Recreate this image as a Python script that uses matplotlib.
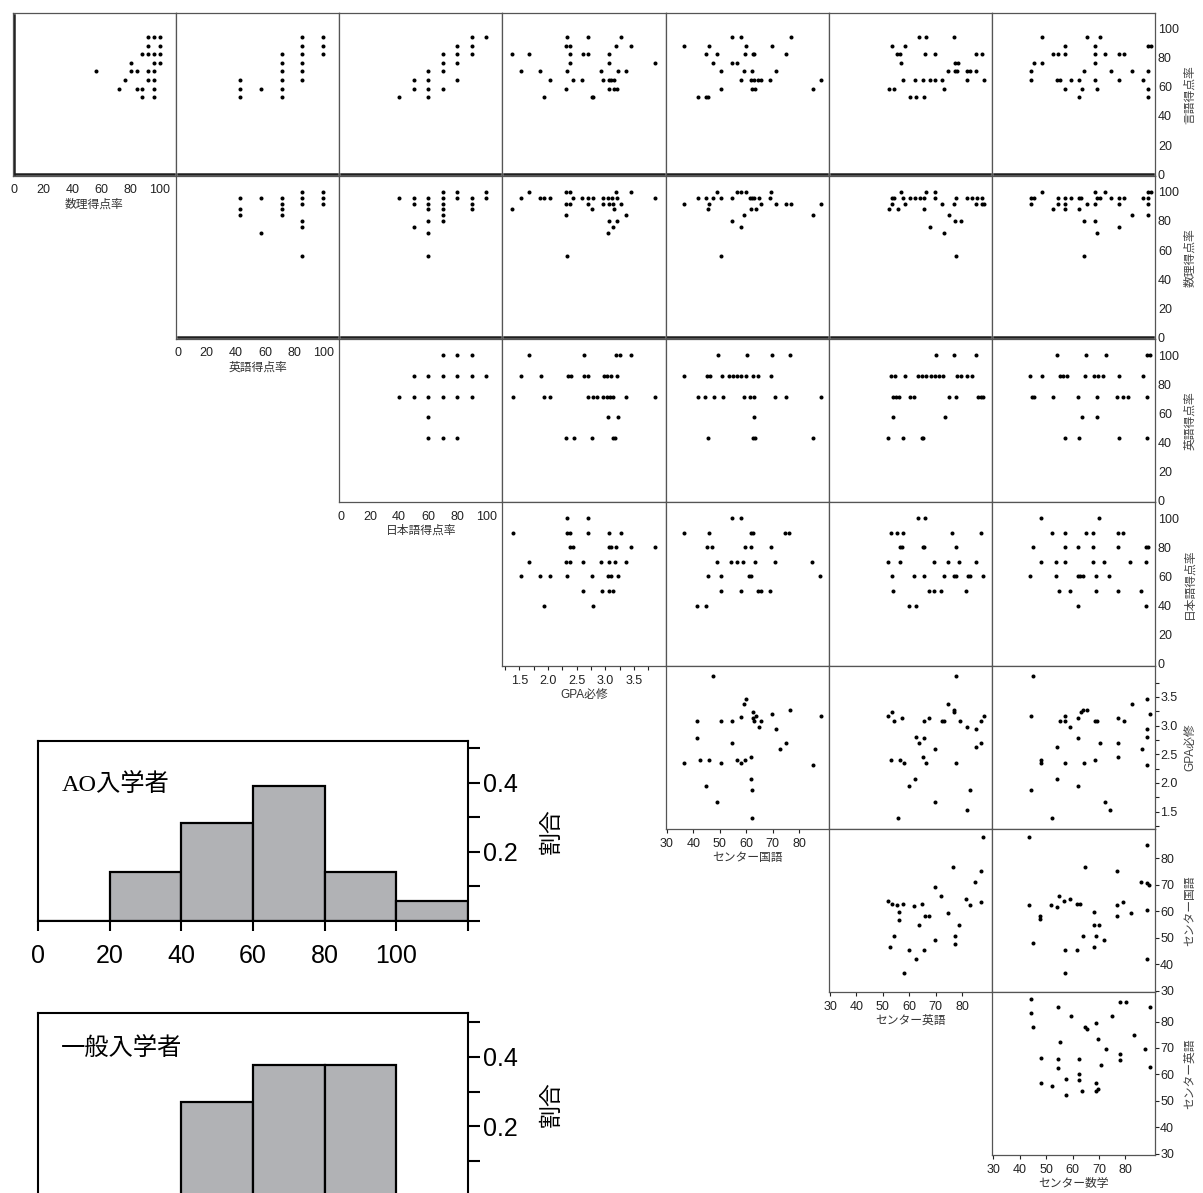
import matplotlib
matplotlib.use("Agg")
import matplotlib.pyplot as plt

plt.rcParams['font.family'] = ['Liberation Sans', 'Noto Sans CJK JP', 'DejaVu Sans']

# ---------------- variables ----------------
var_names = ['言語得点率', '数理得点率', '英語得点率', '日本語得点率',
             'GPA必修', 'センター国語', 'センター英語', 'センター数学']
var_kind = ['pct', 'pct', 'pct', 'pct', 'gpa', 'center', 'center', 'center']

# ---------------- scatter data: (x, y) per panel ----------------
# row 0 : y = 言語得点率
gengo_suri = [(92,94.1),(96,94.1),(100,94.1),(92,88.2),(100,88.2),(88,82.4),(92,82.4),(96,82.4),(100,82.4),
              (80,76.5),(96,76.5),(100,76.5),(56,70.6),(80,70.6),(84,70.6),(92,70.6),(96,70.6),(76,64.7),
              (92,64.7),(96,64.7),(72,58.8),(84,58.8),(88,58.8),(96,58.8),(88,52.9),(96,52.9)]
gengo_eigo = [(42.9,64.7),(42.9,58.8),(42.9,52.9),(57.1,58.8),(71.4,82.4),(71.4,76.5),(71.4,70.6),(71.4,64.7),
              (71.4,58.8),(71.4,52.9),(85.7,94.1),(85.7,88.2),(85.7,82.4),(85.7,76.5),(85.7,70.6),(85.7,64.7),
              (100,94.1),(100,88.2),(100,82.4)]
gengo_nihongo = [(40,52.9),(50,64.7),(50,58.8),(60,70.6),(60,64.7),(60,58.8),(60,52.9),(70,82.4),(70,76.5),
                 (70,70.6),(70,58.8),(80,88.2),(80,82.4),(80,76.5),(80,64.7),(90,94.1),(90,88.2),(90,82.4),(100,94.1)]
gengo_gpa = [(1.37,82.4),(1.66,82.4),(1.52,70.6),(1.86,70.6),(2.04,64.7),(1.93,52.9),(2.31,58.8),(2.33,94.1),
             (2.32,88.2),(2.39,88.2),(2.39,82.4),(2.39,76.5),(2.33,70.6),(2.44,64.7),(2.60,64.7),(2.61,82.4),
             (2.69,82.4),(2.69,94.1),(2.77,52.9),(2.79,52.9),(2.93,70.6),(2.96,64.7),(3.06,82.4),(3.07,76.5),
             (3.06,64.7),(3.10,64.7),(3.15,64.7),(3.06,58.8),(3.15,58.8),(3.21,58.8),(3.19,88.2),(3.28,94.1),
             (3.22,70.6),(3.36,70.6),(3.45,88.2),(3.86,76.5)]
gengo_ckokugo = [(36.5,88.2),(41.6,52.9),(45.0,52.9),(45.4,52.9),(45.0,82.4),(46.0,88.2),(47.5,76.5),(48.9,82.4),
                 (50.5,70.6),(50.5,58.8),(54.6,94.1),(54.6,76.5),(56.4,76.5),(58.1,94.1),(58.1,64.7),(59.0,70.6),
                 (59.9,88.2),(59.7,82.4),(61.9,64.7),(62.1,70.6),(62.6,82.4),(62.8,64.7),(62.3,58.8),(63.2,58.8),
                 (63.0,82.4),(64.3,64.7),(65.6,64.7),(69.1,64.7),(69.7,88.2),(71.1,70.6),(75.2,82.4),(76.8,94.1),
                 (85.3,58.8),(88.3,64.7)]
gengo_ceigo = [(53.3,88.2),(55.5,82.4),(56.3,82.4),(56.8,76.5),(58.2,88.2),(57.7,64.7),(52.2,58.8),(54.0,58.8),
               (60.2,52.9),(62.6,52.9),(65.7,52.9),(62.2,64.7),(63.6,94.1),(66.3,94.1),(65.9,82.4),(69.7,82.4),
               (65.2,64.7),(67.7,64.7),(69.8,64.7),(72.2,64.7),(73.2,58.8),(74.7,70.6),(76.8,94.1),(77.2,76.5),
               (78.2,76.5),(77.2,70.6),(77.9,70.6),(81.6,70.6),(83.1,70.6),(85.3,70.6),(81.7,64.7),(85.3,82.4),
               (87.3,82.4),(88.2,64.7)]
gengo_csugaku = [(44.3,64.7),(44.3,70.6),(45.3,76.5),(48.3,94.1),(48.3,76.5),(52.5,82.4),(54.4,82.4),(57.3,88.2),
                 (57.3,82.4),(54.2,64.7),(55.1,64.7),(57.3,58.8),(59.4,64.7),(62.3,64.7),(62.4,52.9),(63.4,58.8),
                 (64.4,70.6),(65.5,94.1),(68.4,88.2),(68.4,82.4),(68.4,76.5),(68.4,64.7),(69.4,58.8),(70.5,94.1),
                 (72.4,82.4),(74.4,70.6),(77.4,82.4),(79.4,82.4),(77.4,64.7),(82.4,70.6),(86.5,64.7),(88.6,88.2),
                 (89.5,88.2),(88.6,70.6),(88.6,58.8),(88.6,52.9)]

# row 1 : y = 数理得点率
suri_eigo = [(42.9,96),(42.9,88),(42.9,84),(57.1,96),(57.1,72),(71.4,96),(71.4,92),(71.4,88),(71.4,84),
             (85.7,100),(85.7,96),(85.7,92),(85.7,80),(85.7,76),(85.7,56),(100,100),(100,96),(100,92)]
suri_nihongo = [(40,96),(50,96),(50,92),(50,76),(60,96),(60,92),(60,88),(60,80),(60,72),(60,56),(70,100),(70,96),
                (70,92),(70,88),(70,84),(70,80),(80,100),(80,96),(90,96),(90,92),(90,88),(100,100),(100,96)]
suri_gpa = [(1.37,88),(1.52,96),(1.66,100),(1.85,96),(1.92,96),(2.04,96),(2.32,100),(2.38,100),(2.31,92),(2.39,92),
            (2.44,96),(2.31,84),(2.33,56),(2.60,96),(2.70,96),(2.79,96),(2.69,92),(2.77,88),(2.95,96),(2.95,92),
            (3.04,96),(3.06,92),(3.11,96),(3.14,92),(3.19,100),(3.21,96),(3.15,88),(3.28,92),(3.36,84),(3.06,80),
            (3.21,80),(3.13,76),(3.05,72),(3.45,100),(3.86,96)]
suri_ckokugo = [(48.9,100),(56.4,100),(58.1,100),(60.0,100),(69.5,100),(41.6,96),(45.0,96),(47.5,96),(50.5,96),
                (54.6,96),(61.4,96),(62.3,96),(63.0,96),(64.7,96),(69.1,96),(36.5,92),(45.9,92),(65.6,92),(71.1,92),
                (75.2,92),(76.8,92),(88.3,92),(45.4,88),(61.9,88),(63.8,88),(59.0,84),(85.3,84),(54.6,80),(58.1,76),
                (50.5,56)]
suri_ceigo = [(56.7,100),(66.3,100),(69.8,100),(53.3,96),(54.0,96),(57.7,96),(60.1,96),(62.3,96),(64.0,96),
              (65.6,96),(69.8,96),(77.8,96),(81.7,96),(83.6,96),(85.5,96),(87.3,96),(53.3,92),(58.2,92),(72.3,92),
              (76.8,92),(85.3,92),(87.3,92),(88.3,92),(52.2,88),(55.6,88),(65.6,88),(74.8,84),(77.2,80),(79.4,80),
              (67.7,76),(73.2,72),(77.7,56)]
suri_csugaku = [(48.3,100),(68.4,100),(72.4,100),(88.6,100),(89.5,100),(44.3,96),(45.3,96),(54.4,96),(57.3,96),
                (59.4,96),(62.3,96),(63.0,96),(69.4,96),(70.5,96),(74.4,96),(77.4,96),(79.4,96),(86.5,96),(88.6,96),
                (44.3,92),(54.4,92),(57.3,92),(65.5,92),(68.4,92),(77.4,92),(88.6,92),(52.5,88),(57.3,88),(62.4,88),
                (82.4,84),(88.6,84),(64.4,80),(68.4,80),(77.4,76),(69.4,72),(64.4,56)]

# row 2 : y = 英語得点率
eigo_nihongo = [(70,100),(80,100),(90,100),(50,85.7),(60,85.7),(70,85.7),(80,85.7),(90,85.7),(100,85.7),
                (40,71.4),(50,71.4),(60,71.4),(70,71.4),(80,71.4),(90,71.4),(60,57.1),(60,42.9),(70,42.9),(80,42.9)]
eigo_gpa = [(1.66,100),(2.63,100),(3.19,100),(3.26,100),(3.45,100),(1.53,85.7),(1.87,85.7),(2.34,85.7),(2.40,85.7),
            (2.63,85.7),(2.70,85.7),(2.97,85.7),(3.03,85.7),(3.09,85.7),(3.20,85.7),(1.39,71.4),(1.93,71.4),
            (2.04,71.4),(2.70,71.4),(2.78,71.4),(2.86,71.4),(2.96,71.4),(3.03,71.4),(3.08,71.4),(3.13,71.4),
            (3.36,71.4),(3.87,71.4),(3.04,57.1),(3.22,57.1),(2.32,42.9),(2.45,42.9),(2.77,42.9),(3.13,42.9),(3.17,42.9)]
eigo_ckokugo = [(49.2,100),(60.4,100),(69.8,100),(76.7,100),(36.6,85.7),(45.2,85.7),(46.3,85.7),(50.9,85.7),
                (53.6,85.7),(55.1,85.7),(56.6,85.7),(58.2,85.7),(59.9,85.7),(62.4,85.7),(64.5,85.7),(69.4,85.7),
                (41.7,71.4),(44.6,71.4),(47.8,71.4),(51.1,71.4),(59.3,71.4),(61.4,71.4),(62.9,71.4),(70.8,71.4),
                (75.1,71.4),(88.3,71.4),(62.9,57.1),(45.7,42.9),(62.4,42.9),(63.3,42.9),(85.3,42.9)]
eigo_ceigo = [(70.1,100),(76.8,100),(85.2,100),(52.9,85.7),(54.4,85.7),(58.2,85.7),(63.4,85.7),(64.9,85.7),
              (66.4,85.7),(68.0,85.7),(69.5,85.7),(71.2,85.7),(72.6,85.7),(78.1,85.7),(79.6,85.7),(81.7,85.7),
              (83.8,85.7),(53.8,71.4),(54.8,71.4),(56.1,71.4),(60.1,71.4),(61.7,71.4),(74.8,71.4),(77.5,71.4),
              (85.9,71.4),(86.9,71.4),(88.0,71.4),(53.8,57.1),(73.3,57.1),(51.9,42.9),(57.5,42.9),(64.9,42.9),
              (65.1,42.9)]
eigo_csugaku = [(54.3,100),(65.2,100),(72.6,100),(88.3,100),(89.3,100),(43.8,85.7),(48.4,85.7),(55.1,85.7),
                (56.4,85.7),(57.9,85.7),(64.6,85.7),(68.0,85.7),(69.8,85.7),(71.5,85.7),(77.4,85.7),(86.6,85.7),
                (44.6,71.4),(45.3,71.4),(52.6,71.4),(62.1,71.4),(69.4,71.4),(76.8,71.4),(78.9,71.4),(81.0,71.4),
                (88.3,71.4),(63.5,57.1),(69.4,57.1),(57.2,42.9),(62.5,42.9),(77.4,42.9),(88.3,42.9)]

# row 3 : y = 日本語得点率
nihongo_gpa = [(2.33,100),(2.69,100),(1.38,90),(2.33,90),(2.39,90),(2.69,90),(3.06,90),(3.28,90),(2.39,80),
               (2.43,80),(3.06,80),(3.10,80),(3.19,80),(3.44,80),(3.87,80),(1.66,70),(2.31,70),(2.39,70),(2.61,70),
               (2.93,70),(3.06,70),(3.16,70),(3.36,70),(1.52,60),(1.86,60),(2.04,60),(2.33,60),(2.76,60),(3.04,60),
               (3.10,60),(3.22,60),(2.61,50),(2.94,50),(3.06,50),(3.14,50),(1.93,40),(2.79,40)]
nihongo_ckokugo = [(54.5,100),(57.9,100),(36.6,90),(46.0,90),(62.0,90),(62.5,90),(74.8,90),(76.2,90),(45.1,80),
                   (47.1,80),(59.6,80),(62.0,80),(69.4,80),(48.8,70),(54.3,70),(56.5,70),(58.8,70),(63.4,70),
                   (70.8,70),(84.8,70),(45.4,60),(50.6,60),(61.2,60),(62.0,60),(87.8,60),(50.6,50),(57.9,50),
                   (64.6,50),(65.6,50),(68.9,50),(41.5,40),(44.9,40)]
nihongo_ceigo = [(63.3,100),(65.9,100),(53.1,90),(55.3,90),(57.7,90),(76.2,90),(86.9,90),(56.5,80),(57.4,80),
                 (65.1,80),(65.6,80),(77.6,80),(51.9,70),(56.5,70),(69.3,70),(74.5,70),(78.7,70),(85.1,70),
                 (53.4,60),(61.6,60),(65.6,60),(73.1,60),(77.0,60),(77.6,60),(82.2,60),(83.0,60),(87.8,60),
                 (53.9,50),(67.3,50),(69.3,50),(71.9,50),(81.3,50),(59.9,40),(62.5,40)]
nihongo_csugaku = [(47.9,100),(70.1,100),(52.2,90),(57.0,90),(65.0,90),(67.9,90),(77.0,90),(79.0,90),(45.0,80),
                   (57.0,80),(62.1,80),(67.9,80),(77.0,80),(87.8,80),(88.6,80),(47.9,70),(53.9,70),(57.0,70),
                   (67.9,70),(71.9,70),(81.8,70),(87.8,70),(44.0,60),(53.9,60),(62.0,60),(62.8,60),(63.8,60),
                   (68.9,60),(73.9,60),(54.9,50),(59.0,50),(68.9,50),(77.0,50),(85.9,50),(62.0,40),(87.8,40)]

# row 4 : y = GPA必修
gpa_ckokugo = [(47.4,3.87),(60.0,3.46),(59.0,3.38),(76.6,3.28),(62.5,3.23),(58.0,3.15),(62.5,3.13),(63.6,3.16),
               (88.1,3.16),(69.7,3.21),(41.3,3.08),(50.6,3.08),(54.5,3.08),(63.1,3.08),(65.7,3.08),(64.7,2.97),
               (71.2,2.94),(41.4,2.78),(54.6,2.70),(75.1,2.70),(72.8,2.60),(62.0,2.45),(42.4,2.40),(46.1,2.40),
               (56.6,2.40),(59.6,2.40),(36.4,2.34),(50.5,2.34),(58.0,2.34),(85.1,2.32),(62.0,2.06),(45.0,1.94),
               (62.1,1.88),(49.0,1.67),(62.1,1.39)]
gpa_ceigo = [(77.6,3.87),(74.6,3.38),(76.7,3.28),(76.9,3.23),(52.0,3.17),(53.5,3.23),(54.0,3.08),(57.4,3.13),
             (67.6,3.14),(65.7,3.08),(72.3,3.08),(73.1,3.08),(79.2,3.08),(81.6,2.97),(85.3,2.94),(87.1,3.08),
             (88.2,3.16),(62.6,2.80),(63.7,2.70),(65.4,2.78),(69.6,2.60),(87.1,2.70),(85.3,2.62),(53.1,2.40),
             (56.6,2.40),(58.1,2.34),(65.0,2.45),(66.2,2.34),(77.6,2.34),(62.1,2.06),(59.9,1.94),(83.1,1.88),
             (69.6,1.67),(81.6,1.53),(55.7,1.39)]
gpa_csugaku = [(45.2,3.87),(44.1,3.16),(88.2,3.46),(82.3,3.38),(89.3,3.21),(88.2,2.94),(88.2,2.80),(64.0,3.28),
               (65.3,3.28),(63.0,3.23),(62.1,3.13),(57.3,3.17),(55.1,3.08),(57.1,3.08),(59.1,2.97),(68.4,3.08),
               (69.3,3.08),(77.3,3.14),(79.4,3.08),(62.1,2.78),(54.2,2.62),(70.3,2.70),(77.3,2.70),(86.2,2.60),
               (48.2,2.40),(48.2,2.34),(57.3,2.34),(64.4,2.34),(68.4,2.40),(77.3,2.45),(88.2,2.32),(54.2,2.06),
               (44.1,1.88),(62.1,1.94),(72.3,1.67),(74.3,1.53),(52.2,1.39)]

# row 5 : y = センター国語
ckokugo_ceigo = [(87.9,88.1),(76.4,76.6),(87.0,75.1),(84.9,71.1),(69.5,69.1),(52.1,63.8),(53.3,62.6),(55.5,62.3),
                 (57.5,62.6),(71.9,65.8),(56.2,59.8),(56.2,56.8),(61.8,61.8),(64.8,62.6),(65.8,58.3),(67.6,58.3),
                 (74.5,59.3),(81.5,64.8),(83.0,62.3),(87.0,63.3),(54.0,50.6),(69.5,49.3),(77.3,50.8),(78.9,54.8),
                 (63.5,54.8),(52.8,46.3),(60.0,45.3),(65.6,45.5),(77.3,47.6),(62.5,41.8),(58.0,36.8)]
ckokugo_csugaku = [(43.7,88.1),(88.0,85.1),(76.9,75.1),(64.8,76.6),(85.9,71.1),(88.1,70.6),(89.0,69.8),(43.7,62.3),
                   (47.5,58.3),(47.5,57.0),(51.9,62.3),(54.0,61.6),(55.0,65.8),(56.9,63.8),(58.9,64.8),(61.7,62.6),
                   (62.8,62.6),(76.9,62.3),(78.9,63.3),(76.9,58.3),(82.0,59.3),(88.0,60.3),(44.9,47.8),(57.0,45.4),
                   (61.7,45.5),(63.9,50.8),(68.0,59.8),(68.0,54.8),(68.0,46.3),(69.0,50.8),(70.0,54.8),(72.0,49.3),
                   (57.0,36.8),(88.0,41.8)]

# row 6 : y = センター英語
ceigo_csugaku = [(44.2,88.4),(44.2,83.4),(45.1,77.9),(54.4,85.5),(59.4,81.9),(78.1,87.4),(80.1,87.4),(89.2,85.5),
                 (74.9,81.9),(64.8,77.9),(65.6,77.1),(68.8,79.4),(83.2,75.0),(55.4,72.3),(69.7,73.3),(72.8,69.8),
                 (87.3,69.8),(78.0,67.8),(78.0,65.3),(48.2,66.3),(54.4,65.7),(62.5,65.7),(54.4,62.4),(70.9,63.7),
                 (89.2,62.8),(57.4,58.3),(62.5,60.3),(62.5,57.8),(68.8,56.8),(48.2,56.8),(52.2,55.8),(57.4,52.2),
                 (63.5,53.9),(68.8,53.9),(69.5,54.4)]

# (row = y variable index, x variable index, data)
panels = [
    (0, 1, gengo_suri), (0, 2, gengo_eigo), (0, 3, gengo_nihongo), (0, 4, gengo_gpa),
    (0, 5, gengo_ckokugo), (0, 6, gengo_ceigo), (0, 7, gengo_csugaku),
    (1, 2, suri_eigo), (1, 3, suri_nihongo), (1, 4, suri_gpa), (1, 5, suri_ckokugo),
    (1, 6, suri_ceigo), (1, 7, suri_csugaku),
    (2, 3, eigo_nihongo), (2, 4, eigo_gpa), (2, 5, eigo_ckokugo), (2, 6, eigo_ceigo), (2, 7, eigo_csugaku),
    (3, 4, nihongo_gpa), (3, 5, nihongo_ckokugo), (3, 6, nihongo_ceigo), (3, 7, nihongo_csugaku),
    (4, 5, gpa_ckokugo), (4, 6, gpa_ceigo), (4, 7, gpa_csugaku),
    (5, 6, ckokugo_ceigo), (5, 7, ckokugo_csugaku),
    (6, 7, ceigo_csugaku),
]

# ---------------- histogram data ----------------
hist_bin_left = [0, 20, 40, 60, 80, 100]
ao_share = [0.0, 0.143, 0.283, 0.390, 0.143, 0.059]
ippan_share = [0.0, 0.0, 0.269, 0.377, 0.377, 0.0]
hist_xticks = [0, 20, 40, 60, 80, 100, 120]
hist_xticklabels = ['0', '20', '40', '60', '80', '100', '']

# ---------------- styling ----------------
lims = {'pct': (-1.2, 111.0), 'gpa': (1.2, 4.05), 'center': (29.5, 91.2)}
major = {'pct': [0, 20, 40, 60, 80, 100], 'gpa': [1.5, 2.0, 2.5, 3.0, 3.5],
         'center': [30, 40, 50, 60, 70, 80]}
minor = {'pct': [], 'gpa': [1.25, 1.75, 2.25, 2.75, 3.25, 3.75], 'center': []}
tlen = {'pct': 0, 'gpa': 2.6, 'center': 2.6}
xpad = {'pct': 6.0, 'gpa': 4.5, 'center': 4.0}
ypad = {'pct': 2.0, 'gpa': 1.0, 'center': 1.0}

W, H = 1203, 1193
fig = plt.figure(figsize=(W / 100, H / 100), dpi=100)


def px_axes(left, top, width, height):
    return fig.add_axes([left / W, 1 - (top + height) / H, width / W, height / H])


X0, Y0, CELL = 12.7, 12.7, 163.2
spine_col = '#555555'
tick_col = '#222222'

for (r, xv, data) in panels:
    c = xv - 1
    ax = px_axes(X0 + c * CELL, Y0 + r * CELL, CELL, CELL)
    kx, ky = var_kind[xv], var_kind[r]
    xs = [p[0] for p in data]
    ys = [p[1] for p in data]
    ax.plot(xs, ys, 'o', ms=2.9, mew=0, color='black')
    ax.set_xlim(*lims[kx])
    ax.set_ylim(*lims[ky])
    for s in ax.spines.values():
        s.set_color(spine_col)
        s.set_linewidth(0.9)
    ax.tick_params(which='both', bottom=False, left=False, top=False, right=False,
                   labelbottom=False, labelleft=False)
    ax.set_xticks(major[kx])
    ax.set_xticks(minor[kx], minor=True)
    ax.set_yticks(major[ky])
    ax.set_yticks(minor[ky], minor=True)
    if r in (0, 1):
        ax.axhline(0, xmin=0.012, xmax=0.988, color='#1e1e1e', lw=1.8)
    if r == 0 and c == 0:
        ax.axvline(0, ymin=0.012, ymax=0.988, color='#1e1e1e', lw=1.8)
    if c == r:
        ax.tick_params(axis='x', which='both', bottom=True, labelbottom=True,
                       length=tlen[kx], width=0.8, color=tick_col, direction='out',
                       labelsize=9, pad=xpad[kx], labelcolor='#222222')
        ax.set_xlabel(var_names[xv], fontsize=8.5, color='#333333', labelpad=1.5)
    if c == 6:
        ax.yaxis.tick_right()
        ax.tick_params(axis='y', which='both', right=True, labelright=True, left=False,
                       length=tlen[ky], width=0.8, color=tick_col, direction='out',
                       labelsize=9, pad=ypad[ky], labelcolor='#222222')
        fig.text(1190 / W, 1 - (Y0 + r * CELL + CELL / 2) / H, var_names[r], rotation=90,
                 ha='center', va='center', fontsize=8.5, color='#444444')

# ---------------- histograms ----------------
hist_specs = [
    (741.0, 180.0, 0.52, ao_share, 'AO入学者', 0.056, 0.756, True),
    (1012.7, 183.0, 0.527, ippan_share, '一般入学者', 0.053, 0.807, False),
]
for (top, hgt, ymax, shares, title, tx, ty, show_x) in hist_specs:
    ax = px_axes(38, top, 430, hgt)
    ax.bar(hist_bin_left, shares, width=20, align='edge', color='#b1b2b5',
           edgecolor='black', linewidth=1.6)
    ax.set_xlim(0, 120)
    ax.set_ylim(0, ymax)
    for s in ax.spines.values():
        s.set_color('black')
        s.set_linewidth(1.5)
    ax.set_xticks(hist_xticks)
    ax.set_xticklabels(hist_xticklabels)
    ax.yaxis.tick_right()
    ax.set_yticks([0.2, 0.4])
    ax.set_yticklabels(['0.2', '0.4'])
    ax.set_yticks([0.0, 0.1, 0.3, 0.5], minor=True)
    ax.tick_params(axis='x', which='both', length=7.5, width=1.5, direction='out',
                   labelsize=18, pad=9, labelbottom=show_x)
    ax.tick_params(axis='y', which='both', length=8.5, width=1.5, direction='out',
                   labelsize=18, pad=2, left=False, right=True)
    ax.text(tx, ty, title, transform=ax.transAxes, ha='left', va='center', fontsize=17.5,
            family=['Liberation Serif', 'Noto Sans CJK JP'])
    fig.text(551 / W, 1 - (top + hgt / 2) / H, '割合', rotation=90, ha='center',
             va='center', fontsize=16.5)

fig.savefig('out.png', dpi=100)
